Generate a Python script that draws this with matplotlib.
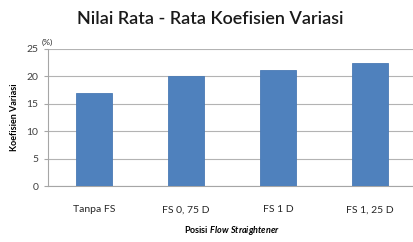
import matplotlib
matplotlib.use('Agg')
from matplotlib import pyplot as plt

categories = ['Tanpa FS', 'FS 0, 75 D', 'FS 1 D', 'FS 1, 25 D']
values = [17.0, 20.0, 21.2, 22.45]
yticks = [0, 5, 10, 15, 20, 25]

plt.rcParams['font.family'] = ['Lato', 'DejaVu Sans']
plt.rcParams['mathtext.fontset'] = 'custom'
plt.rcParams['mathtext.rm'] = 'Lato:bold'
plt.rcParams['mathtext.it'] = 'Lato:italic:bold'

fig = plt.figure(figsize=(4.14, 2.42), dpi=100)
ax = fig.add_axes([48 / 414, 1 - 186 / 242, 368 / 414, 137 / 242])

x = list(range(len(categories)))
ax.bar(x, values, width=0.4, color='#4f81bd', edgecolor='#4a7ab5', linewidth=0.6, zorder=3)

ax.set_xlim(-0.5, 3.5)
ax.set_ylim(0, 25)
ax.set_yticks(yticks)
ax.set_yticklabels([str(v) for v in yticks], fontsize=7.5, color='#404040')
ax.set_xticks(x)
ax.set_xticklabels(categories, fontsize=7.5, color='#262626')
ax.tick_params(axis='x', length=0, pad=14)
ax.tick_params(axis='y', length=3, width=0.8, color='#a6a6a6', pad=4)
ax.grid(axis='y', color='#b3b3b3', linewidth=0.8, zorder=0)

for side in ['top', 'right']:
    ax.spines[side].set_visible(False)
ax.spines['left'].set_color('#a6a6a6')
ax.spines['bottom'].set_color('#a6a6a6')
ax.spines['left'].set_linewidth(0.8)
ax.spines['bottom'].set_linewidth(0.8)

ax.set_ylabel('Koefisien Variasi', fontsize=6.5, fontweight='bold', labelpad=5)
ax.set_xlabel(r'Posisi $\mathit{Flow\ Straightener}$', fontsize=6.5, fontweight='bold', labelpad=7)
ax.text(-0.51, 25.5, '(%)', fontsize=6, color='#262626', ha='center', va='bottom')

fig.text(210 / 414, 1 - 19 / 242, 'Nilai Rata - Rata Koefisien Variasi', fontsize=13,
         fontweight='semibold', ha='center', va='center', color='#1a1a1a')

fig.savefig('out.png', dpi=100)
